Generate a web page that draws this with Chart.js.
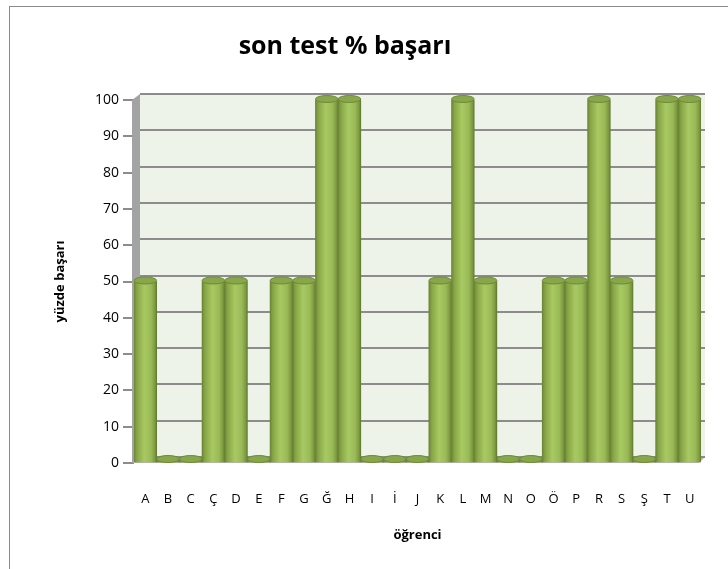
<!DOCTYPE html>
<html lang="tr">
<head>
    <meta charset="UTF-8">
    <title>son test % başarı</title>
    <style>
        body {
            margin: 0;
            background: #fff;
        }
        .frame {
            position: absolute;
            left: 9px;
            top: 6px;
            width: 730px;
            height: 580px;
            border-left: 1px solid #8a8a8a;
            border-top: 1px solid #8a8a8a;
        }
        #wrap {
            position: absolute;
            left: 0;
            top: 0;
            width: 728px;
            height: 569px;
        }
    </style>
</head>
<body>
<div class="frame"></div>
<div id="wrap"><canvas id="chart"></canvas></div>

<script src="https://cdn.jsdelivr.net/npm/chart.js@4.4.0/dist/chart.umd.min.js"></script>
<script>
  const chartTitle = 'son test % başarı';
  const categories = ['A', 'B', 'C', 'Ç', 'D', 'E', 'F', 'G', 'Ğ', 'H', 'I', 'İ', 'J',
                      'K', 'L', 'M', 'N', 'O', 'Ö', 'P', 'R', 'S', 'Ş', 'T', 'U'];
  const scores = [50, 0, 0, 50, 50, 0, 50, 50, 100, 100, 0, 0, 0,
                  50, 100, 50, 0, 0, 50, 50, 100, 50, 0, 100, 100];
  const yTicks = [0, 10, 20, 30, 40, 50, 60, 70, 80, 90, 100];

  const depth = 6; // fake 3d offset of the back wall

  // cylinder shading, from the scale's own pixel positions
  function cylinderFill(ctx) {
    const chart = ctx.chart;
    const xs = chart.scales && chart.scales.x;
    if (!chart.chartArea || !xs) return '#9bbb59';
    const cx = xs.getPixelForValue(ctx.dataIndex);
    const half = xs.width / categories.length / 2;
    if (!isFinite(cx) || !isFinite(half)) return '#9bbb59';
    const g = chart.ctx.createLinearGradient(cx - half, 0, cx + half, 0);
    g.addColorStop(0, '#6b8535');
    g.addColorStop(0.12, '#86a445');
    g.addColorStop(0.45, '#a8c962');
    g.addColorStop(0.75, '#9aba57');
    g.addColorStop(0.92, '#7d9a40');
    g.addColorStop(1, '#627b30');
    return g;
  }

  const walls = {
    id: 'walls',
    beforeDatasetsDraw(chart) {
      const { ctx, chartArea: a } = chart;
      const y = chart.scales.y;
      ctx.save();
      // back wall
      ctx.fillStyle = '#eef3ea';
      ctx.fillRect(a.left + depth, a.top - depth, a.right - a.left - depth + 4, a.bottom - a.top);
      // left wall
      ctx.fillStyle = '#a3a3a3';
      ctx.beginPath();
      ctx.moveTo(a.left - 2, a.top);
      ctx.lineTo(a.left + depth, a.top - depth);
      ctx.lineTo(a.left + depth, a.bottom - depth);
      ctx.lineTo(a.left - 2, a.bottom);
      ctx.closePath();
      ctx.fill();
      // floor
      ctx.fillStyle = '#b4b4b4';
      ctx.beginPath();
      ctx.moveTo(a.left - 2, a.bottom);
      ctx.lineTo(a.left + depth, a.bottom - depth);
      ctx.lineTo(a.right + 4, a.bottom - depth);
      ctx.lineTo(a.right - 2, a.bottom);
      ctx.closePath();
      ctx.fill();
      // back grid lines
      ctx.strokeStyle = '#8c8c8c';
      ctx.lineWidth = 2;
      y.ticks.forEach(t => {
        const py = Math.round(y.getPixelForValue(t.value)) - depth;
        ctx.beginPath();
        ctx.moveTo(a.left + depth, py);
        ctx.lineTo(a.right + 4, py);
        ctx.stroke();
      });
      ctx.restore();
    },
    afterDatasetsDraw(chart) {
      const { ctx } = chart;
      const meta = chart.getDatasetMeta(0);
      ctx.save();
      meta.data.forEach(bar => {
        const rx = bar.width / 2;
        ctx.beginPath();
        ctx.ellipse(bar.x, bar.y - 1, rx, 3.5, 0, 0, Math.PI * 2);
        ctx.fillStyle = '#88a64a';
        ctx.fill();
        ctx.strokeStyle = '#6e8a36';
        ctx.lineWidth = 1;
        ctx.stroke();
      });
      ctx.restore();
    },
    afterDraw(chart) {
      const { ctx } = chart;
      ctx.save();
      ctx.fillStyle = '#000';
      ctx.font = 'bold 25px "Open Sans", sans-serif';
      ctx.textAlign = 'center';
      ctx.textBaseline = 'middle';
      ctx.fillText(chartTitle, 345, 47);
      ctx.restore();
    }
  };

  new Chart(document.getElementById('chart'), {
    type: 'bar',
    data: {
      labels: categories,
      datasets: [{
        data: scores,
        backgroundColor: cylinderFill,
        borderWidth: 0,
        barPercentage: 1,
        categoryPercentage: 1,
        minBarLength: 3
      }]
    },
    options: {
      responsive: true,
      maintainAspectRatio: false,
      animation: false,
      layout: { padding: { left: 52, right: 27, top: 100, bottom: 16 } },
      plugins: {
        legend: { display: false },
        tooltip: { enabled: false }
      },
      scales: {
        x: {
          grid: { display: false },
          border: { display: false },
          ticks: {
            color: '#000',
            padding: 20,
            maxRotation: 0,
            autoSkip: false,
            font: { family: '"Open Sans", sans-serif', size: 13 }
          },
          title: {
            display: true,
            text: 'öğrenci',
            color: '#000',
            padding: { top: 0, bottom: 10 },
            font: { family: '"Open Sans", sans-serif', size: 13, weight: 'bold' }
          },
          afterFit: s => { s.height = 90; }
        },
        y: {
          min: 0,
          max: 100,
          afterBuildTicks: s => { s.ticks = yTicks.map(v => ({ value: v })); },
          grid: {
            drawOnChartArea: false,
            tickLength: 11,
            color: '#8c8c8c',
            lineWidth: 2
          },
          border: { display: false },
          ticks: {
            color: '#000',
            padding: 4,
            font: { family: '"Open Sans", sans-serif', size: 14 }
          },
          title: {
            display: true,
            text: 'yüzde başarı',
            color: '#000',
            padding: { top: 0, bottom: 4 },
            font: { family: '"Open Sans", sans-serif', size: 13, weight: 'bold' }
          },
          afterFit: s => { s.width = 82; }
        }
      }
    },
    plugins: [walls]
  });
</script>
</body>
</html>
